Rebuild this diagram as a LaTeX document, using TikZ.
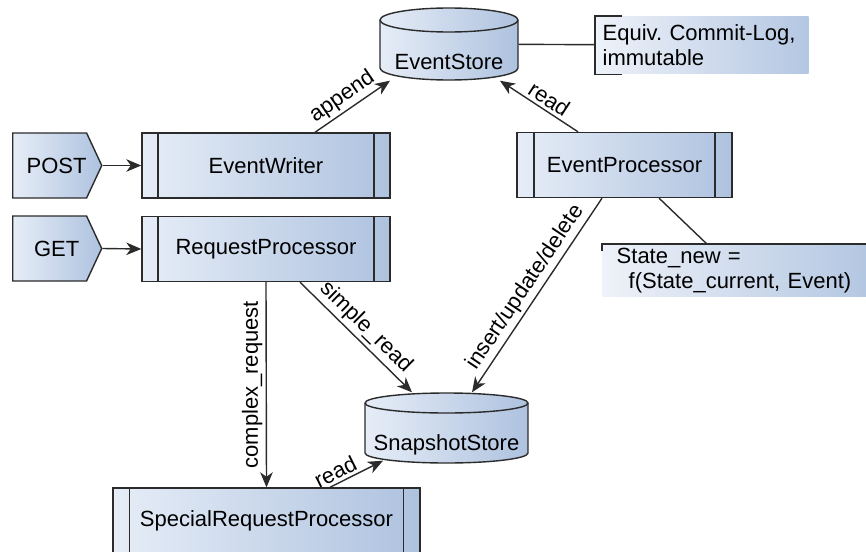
\documentclass[tikz,border=0pt]{standalone}
\usepackage{fontspec}
\setmainfont{Liberation Sans}
\usetikzlibrary{arrows.meta,shapes.symbols}
\definecolor{edge}{HTML}{2B2B2B}
\definecolor{cl}{HTML}{E6EDF7}
\definecolor{cr}{HTML}{AEC2DF}
\definecolor{nl}{HTML}{EEF2F9}
\definecolor{nr}{HTML}{B4C7E2}
\begin{document}
\frenchspacing
\begin{tikzpicture}[x=1pt,y=1pt,
  font=\fontsize{22}{25}\selectfont,
  line width=1.4pt, draw=edge,
  grad/.style={left color=cl, right color=cr},
  procbox/.style={draw=edge, grad, inner sep=0pt, minimum height=65pt,
    path picture={
      \draw[edge,line width=1.4pt]
        ([xshift=#1]path picture bounding box.north west) -- ([xshift=#1]path picture bounding box.south west)
        ([xshift=-#1]path picture bounding box.north east) -- ([xshift=-#1]path picture bounding box.south east);}},
  httpbox/.style={signal, signal to=east, signal from=nowhere, signal pointer angle=130,
    draw=edge, grad, minimum width=89pt, minimum height=65pt, inner sep=0pt, anchor=west},
  storebox/.style={rectangle, inner sep=0pt, text depth=0pt},
  notebox/.style={rectangle, left color=nl, right color=nr, inner sep=0pt, align=left, anchor=north west},
  arr/.style={draw=edge, -{Stealth[length=15pt,width=12.5pt,inset=4.5pt]}},
  lbl/.style={sloped, above, inner sep=3pt, text=black},
]
\useasboundingbox (0,0) rectangle (866,-551);

% cylinders
\path[grad, draw=edge] (380,-20) -- (380,-68) arc[start angle=180,end angle=360,x radius=69,y radius=12]
  -- (518,-20) arc[start angle=0,end angle=180,x radius=69,y radius=12] -- cycle;
\draw[edge] (380,-20) arc[start angle=180,end angle=360,x radius=69,y radius=12];
\node[storebox, minimum width=138pt, minimum height=72pt, text height=51pt] (es) at (449,-44) {EventStore};

\path[grad, draw=edge] (365,-403) -- (365,-453) arc[start angle=180,end angle=360,x radius=81.5,y radius=10]
  -- (528,-403) arc[start angle=0,end angle=180,x radius=81.5,y radius=10] -- cycle;
\draw[edge] (365,-403) arc[start angle=180,end angle=360,x radius=81.5,y radius=10];
\node[storebox, minimum width=163pt, minimum height=70pt, text height=45pt] (ss) at (446.5,-428) {SnapshotStore};

% process boxes
\node[procbox=16pt, minimum width=248pt] (ew) at (266,-165.5) {EventWriter};
\node[procbox=16pt, minimum width=248pt] (rp) at (266,-249) {RequestProcessor};
\node[procbox=17pt, minimum width=215pt] (ep) at (624.5,-165) {EventProcessor};
\node[procbox=16.5pt, minimum width=307pt] (srp) at (266.5,-520.5) {SpecialRequestProcessor};

% http inputs
\node[httpbox] (post) at (12,-165.5) {\hspace*{14pt}POST};
\node[httpbox] (get) at (12,-248.5) {\hspace*{14pt}GET};

% notes
\node[notebox, minimum width=213pt, minimum height=57pt, text width=199pt] (n1) at (595,-16)
  {\fontsize{22}{21}\selectfont Equiv. Commit-Log,\\immutable};
\draw[edge] ([xshift=27pt]n1.north west) -- (n1.north west) -- (n1.south west) -- ([xshift=27pt]n1.south west);
\node[notebox, minimum width=264pt, minimum height=52pt, text width=248pt] (n2) at (602,-244)
  {\fontsize{22}{26}\selectfont\hspace*{6pt}State\_new =\\\hspace*{18pt}f(State\_current, Event)};
\draw[edge] ([yshift=-7pt]n2.north west) -- (n2.north west) -- (n2.north east);

% connectors
\draw[edge] (es) -- (n1);
\draw[edge] (ep) -- (n2);
\draw[arr] (post.east) -- (ew.west);
\draw[arr] (get.east) -- (rp.west);
\draw[arr] ([xshift=49pt]ew.north) -- node[lbl, pos=.47] {append} ([xshift=-59pt]es.south);
\draw[arr] ([xshift=-46.5pt]ep.north) -- node[lbl, pos=.45] {read} ([xshift=51pt]es.south);
\draw[arr] ([xshift=34pt]rp.south) -- node[lbl] {simple\_read} ([xshift=-34.5pt]ss.north);
\draw[arr] ([xshift=-22.5pt]ep.south) -- node[lbl] {insert/update/delete} ([xshift=25.5pt]ss.north);
\draw[arr] (rp.south) -- node[midway, rotate=90, anchor=south, inner sep=3pt] {complex\_request} (srp.north);
\draw[arr] ([xshift=63.5pt]srp.north) -- node[lbl, pos=.2] {read} ([xshift=-63.5pt,yshift=3pt]ss.south);
\end{tikzpicture}
\end{document}
